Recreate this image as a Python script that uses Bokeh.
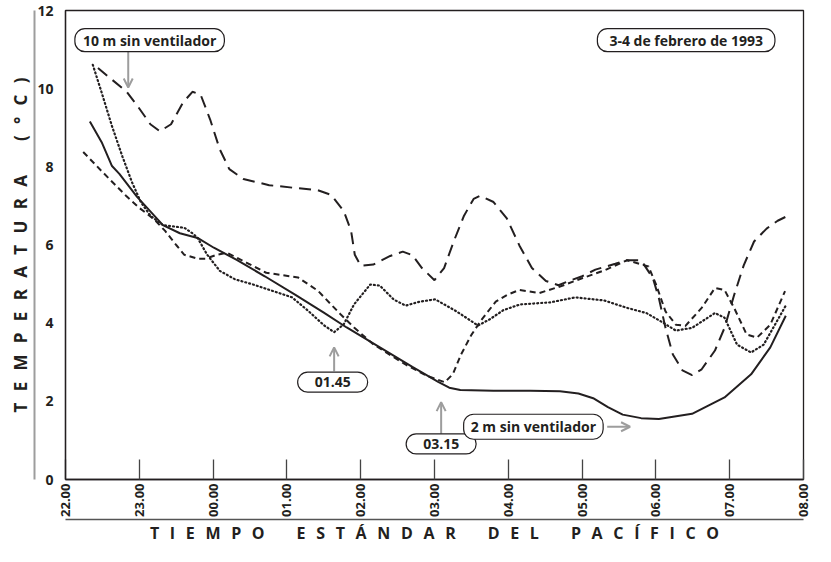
import math
from bokeh.plotting import figure
from bokeh.models import Range1d, FixedTicker, LinearAxis, Label, Arrow, OpenHead
from bokeh.embed import file_html
from bokeh.resources import INLINE

# ---------------- data (hours after 22.00, temperature in °C) ----------------
tick_values = [0, 1, 2, 3, 4, 5, 6, 7, 8, 9, 10]
tick_labels = ["22.00", "23.00", "00.00", "01.00", "02.00", "03.00",
               "04.00", "05.00", "06.00", "07.00", "08.00"]
y_ticks = [0, 2, 4, 6, 8, 10, 12]

# 2 m sin ventilador (solid)
solid_x = [0.33, 0.49, 0.63, 0.73, 0.97, 1.32, 1.55, 1.79, 2.01, 2.32, 2.7, 3.11, 3.5,
           3.81, 4.26, 4.7, 5.05, 5.2, 5.35, 5.8, 6.3, 6.7, 6.95, 7.15, 7.35, 7.55,
           7.8, 8.04, 8.49, 8.93, 9.29, 9.55, 9.76]
solid_y = [9.16, 8.63, 8.02, 7.82, 7.23, 6.51, 6.3, 6.18, 5.93, 5.62, 5.2, 4.73, 4.27,
           3.89, 3.38, 2.88, 2.5, 2.35, 2.29, 2.27, 2.27, 2.26, 2.2, 2.08, 1.85, 1.66,
           1.57, 1.55, 1.68, 2.1, 2.69, 3.38, 4.19]

# 10 m sin ventilador (long dash)
long_x = [0.44, 0.63, 0.83, 0.99, 1.15, 1.28, 1.43, 1.59, 1.72, 1.83, 1.96, 2.09, 2.22,
          2.41, 2.76, 3.11, 3.42, 3.6, 3.77, 3.87, 3.92, 4.0, 4.17, 4.4, 4.57, 4.7,
          4.83, 5.0, 5.13, 5.26, 5.4, 5.53, 5.62, 5.8, 5.98, 6.15, 6.32, 6.51, 6.68,
          6.85, 7.0, 7.18, 7.45, 7.61, 7.8, 7.96, 8.04, 8.13, 8.23, 8.36, 8.49, 8.62,
          8.8, 8.93, 9.06, 9.19, 9.33, 9.5, 9.65, 9.78]
long_y = [10.53, 10.23, 9.92, 9.52, 9.09, 8.91, 9.09, 9.64, 9.92, 9.85, 9.21, 8.45, 7.94,
          7.69, 7.53, 7.46, 7.40, 7.28, 6.87, 6.36, 5.75, 5.47, 5.5, 5.72, 5.83, 5.74,
          5.41, 5.1, 5.41, 6.09, 6.75, 7.18, 7.26, 7.1, 6.68, 5.99, 5.41, 5.08, 4.97,
          5.1, 5.2, 5.37, 5.52, 5.61, 5.61, 5.15, 4.64, 3.88, 3.2, 2.79, 2.67, 2.82,
          3.3, 3.88, 4.72, 5.48, 6.09, 6.42, 6.62, 6.74]

# short dash
short_x = [0.24, 0.5, 0.82, 1.0, 1.2, 1.35, 1.5, 1.61, 1.79, 1.9, 2.05, 2.19, 2.45,
           2.72, 3.15, 3.42, 3.73, 3.91, 4.17, 4.6, 4.9, 5.14, 5.25, 5.36, 5.5, 5.63,
           5.83, 5.98, 6.15, 6.42, 6.72, 7.0, 7.3, 7.61, 7.9, 8.0, 8.13, 8.27, 8.4,
           8.62, 8.8, 8.93, 9.06, 9.23, 9.37, 9.55, 9.75]
short_y = [8.38, 7.87, 7.26, 6.95, 6.66, 6.36, 6.0, 5.75, 5.65, 5.65, 5.75, 5.8, 5.55,
           5.29, 5.17, 4.83, 4.22, 3.89, 3.46, 2.95, 2.65, 2.49, 2.7, 3.2, 3.7, 4.07,
           4.55, 4.72, 4.85, 4.77, 4.95, 5.15, 5.35, 5.61, 5.45, 5.0, 4.3, 3.96, 3.93,
           4.39, 4.9, 4.85, 4.39, 3.71, 3.63, 3.96, 4.82]

# dotted
dot_x = [0.37, 0.49, 0.63, 0.77, 0.9, 1.02, 1.15, 1.32, 1.61, 1.72, 1.79, 1.92, 2.09,
         2.3, 2.54, 3.07, 3.28, 3.5, 3.64, 3.77, 3.91, 4.13, 4.26, 4.45, 4.61, 4.8,
         5.01, 5.3, 5.59, 5.75, 5.93, 6.16, 6.56, 6.91, 7.3, 7.61, 7.87, 8.1, 8.27,
         8.49, 8.8, 8.93, 9.1, 9.29, 9.46, 9.76]
dot_y = [10.61, 9.9, 9.04, 8.27, 7.61, 7.1, 6.75, 6.51, 6.44, 6.3, 6.18, 5.75, 5.34,
         5.12, 4.99, 4.66, 4.33, 3.95, 3.77, 3.97, 4.48, 4.99, 4.96, 4.6, 4.45, 4.55,
         4.61, 4.3, 3.94, 4.1, 4.33, 4.48, 4.53, 4.66, 4.58, 4.39, 4.26, 4.01, 3.81,
         3.88, 4.26, 4.14, 3.45, 3.25, 3.45, 4.45]

# ---------------- styling ----------------
INK = "#231f20"
GREY = "#9d9d9d"
FONT = "Open Sans"


def spaced(s):
    words = s.split(" ")
    return "\u2003\u2003".join("\u2002\u2009".join(list(w)) for w in words)


p = figure(width=815, height=546, x_range=Range1d(0, 10), y_range=Range1d(0, 12),
           output_backend="svg", toolbar_location=None,
           min_border_left=65, min_border_right=12, min_border_top=10, min_border_bottom=60,
           background_fill_color="white", border_fill_color="white")
p.grid.visible = False
p.outline_line_color = INK
p.outline_line_width = 1.3
p.outline_line_alpha = 1.0

xa = p.xaxis[0]
xa.ticker = FixedTicker(ticks=tick_values)
xa.major_label_overrides = {v: l for v, l in zip(tick_values, tick_labels)}
xa.major_tick_in = 20
xa.major_tick_out = 0
xa.minor_tick_in = 0
xa.minor_tick_out = 0
xa.major_tick_line_color = "#444444"
xa.major_tick_line_width = 1.3
xa.axis_line_color = INK
xa.axis_line_width = 1.3
xa.major_label_orientation = math.pi / 2
xa.major_label_standoff = 4
xa.major_label_text_font = FONT
xa.major_label_text_font_style = "bold"
xa.major_label_text_font_size = "13px"
xa.major_label_text_color = INK

ya = p.yaxis[0]
ya.ticker = FixedTicker(ticks=y_ticks)
ya.major_tick_in = 0
ya.major_tick_out = 0
ya.minor_tick_in = 0
ya.minor_tick_out = 0
ya.axis_line_color = INK
ya.axis_line_width = 1.3
ya.major_label_standoff = 12
ya.major_label_text_font = FONT
ya.major_label_text_font_style = "bold"
ya.major_label_text_font_size = "14px"
ya.major_label_text_color = INK

x2 = LinearAxis(ticker=FixedTicker(ticks=[]), axis_label=spaced("TIEMPO ESTÁNDAR DEL PACÍFICO"),
                axis_line_color="#555555", axis_line_width=1.5,
                major_tick_in=0, major_tick_out=0, minor_tick_in=0, minor_tick_out=0,
                axis_label_standoff=2, axis_label_text_font=FONT,
                axis_label_text_font_style="bold", axis_label_text_font_size="16px",
                axis_label_text_color=INK)
p.add_layout(x2, "below")

y2 = LinearAxis(ticker=FixedTicker(ticks=[]), axis_label=spaced("TEMPERATURA (°C)"),
                axis_line_color=GREY, axis_line_width=2,
                major_tick_in=0, major_tick_out=0, minor_tick_in=0, minor_tick_out=0,
                axis_label_standoff=3, axis_label_text_font=FONT,
                axis_label_text_font_style="bold", axis_label_text_font_size="17px",
                axis_label_text_color=INK)
p.add_layout(y2, "left")

# ---------------- series ----------------
p.line(solid_x, solid_y, line_color=INK, line_width=2)
p.line(long_x, long_y, line_color=INK, line_width=2, line_dash="12 7")
p.line(short_x, short_y, line_color=INK, line_width=2, line_dash="6 4")
p.line(dot_x, dot_y, line_color=INK, line_width=2.2, line_dash="1 3", line_cap="round")

# ---------------- annotations ----------------
def pill(x, y, text, padx, pady):
    p.add_layout(Label(x=x, y=y, text=text, text_align="center", text_baseline="middle",
                       text_font=FONT, text_font_style="bold", text_font_size="14px",
                       text_color=INK, background_fill_color="white",
                       border_line_color=INK, border_line_width=1.2,
                       padding=(padx, pady), border_radius=10))


def arrow(x0, y0, x1, y1):
    p.add_layout(Arrow(end=OpenHead(size=9, line_color=GREY, line_width=2),
                       x_start=x0, y_start=y0, x_end=x1, y_end=y1,
                       line_color=GREY, line_width=2))


arrow(0.85, 10.99, 0.85, 10.03)
arrow(3.64, 2.77, 3.64, 3.38)
arrow(5.09, 1.17, 5.09, 1.98)
arrow(7.34, 1.35, 7.65, 1.35)

pill(1.14, 11.24, "10 m sin ventilador", 8, 2)
pill(8.41, 11.24, "3-4 de febrero de 1993", 12, 2)
pill(3.62, 2.49, "01.45", 17, 5)
pill(5.09, 0.91, "03.15", 17, 5)
pill(6.34, 1.35, "2 m sin ventilador", 7, 3)

open("out.html", "w").write(file_html(p, INLINE))
